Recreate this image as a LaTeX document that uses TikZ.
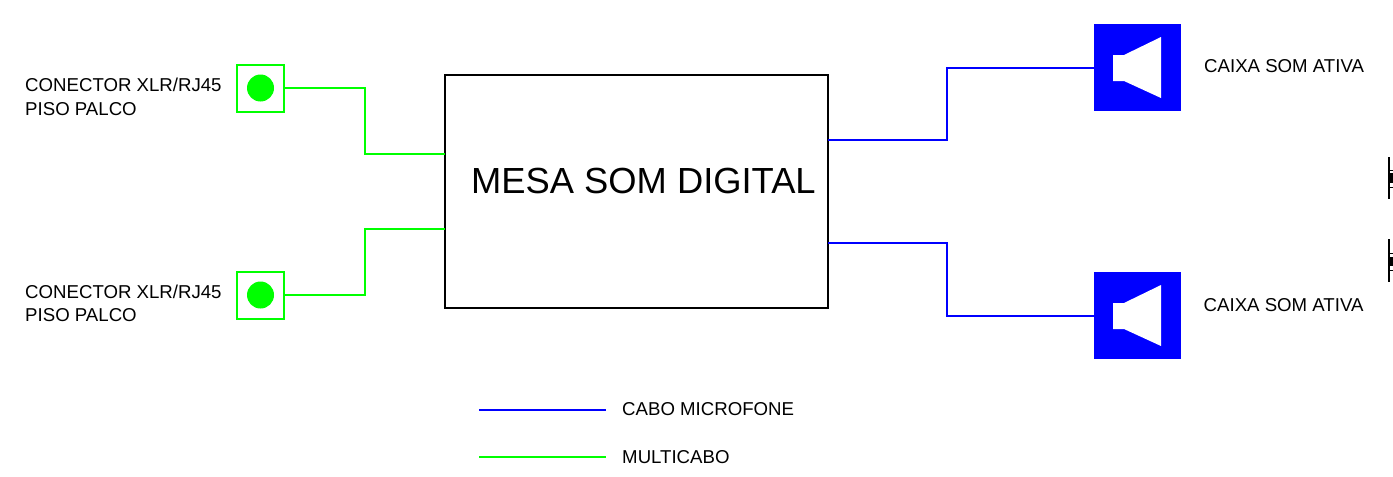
\documentclass[tikz,border=0pt]{standalone}
\usepackage{fontspec}
\setmainfont{Liberation Sans}
\definecolor{fioverde}{RGB}{0,255,0}
\definecolor{fioazul}{RGB}{0,0,255}
\tikzset{
	textolabel/.style={anchor=west, align=left, inner sep=0pt, font=\fontsize{15.9}{20.2}\selectfont},
	conector/.style={draw=fioverde, line width=1.1pt, minimum width=1.41cm, minimum height=1.41cm, inner sep=0pt},
	furo/.style={circle, fill=fioverde, minimum size=0.81cm, inner sep=0pt},
	caixa/.style={fill=fioazul, minimum width=2.63cm, minimum height=2.63cm, inner sep=0pt},
	multicabo/.style={draw=fioverde, line width=1.1pt},
	cabomic/.style={draw=fioazul, line width=1.1pt},
}
\begin{document}
\begin{tikzpicture}[x=0.03cm, y=-0.03cm]
	\useasboundingbox (0,0) rectangle (1393,477);

	%mesa
	\node[draw=black, line width=1pt, minimum width=11.49cm, minimum height=6.99cm, inner sep=0pt] (mesa) at (636.5,191.5) {};
	\node[anchor=west, inner sep=0pt, font=\fontsize{31}{36}\selectfont] (mesatexto) at (471,181) {MESA SOM DIGITAL};
	\coordinate (mesaEntA) at (445,154);
	\coordinate (mesaEntB) at (445,229);
	\coordinate (mesaSaiA) at (828,140);
	\coordinate (mesaSaiB) at (828,243);

	%conectores piso palco
	\node[conector] (conA) at (260.5,88.5) {};
	\node[furo] (furoA) at (260.5,88) {};
	\node[textolabel] (conAtexto) at (25,97) {CONECTOR XLR/RJ45\\PISO PALCO};
	\node[conector] (conB) at (260.5,295.5) {};
	\node[furo] (furoB) at (260.5,295) {};
	\node[textolabel] (conBtexto) at (25,303.5) {CONECTOR XLR/RJ45\\PISO PALCO};

	%caixas
	\node[caixa] (caixaA) at (1137.5,67.5) {};
	\fill[white] (1113,55) -- (1124,55) -- (1161,37) -- (1161,98) -- (1124,81) -- (1113,81) -- cycle;
	\node[textolabel] (caixaAtexto) at (1204,66.5) {CAIXA SOM ATIVA};
	\node[caixa] (caixaB) at (1137.5,315.5) {};
	\fill[white] (1113,303) -- (1124,303) -- (1161,285) -- (1161,346) -- (1124,329) -- (1113,329) -- cycle;
	\node[textolabel] (caixaBtexto) at (1203.5,305.5) {CAIXA SOM ATIVA};

	%ligacoes
	\coordinate (dobraA) at (365,154);
	\coordinate (dobraB) at (365,229);
	\coordinate (dobraC) at (947,68);
	\coordinate (dobraD) at (947,316);
	\draw[multicabo] (conA.east |- furoA) -| (dobraA) -- (mesaEntA);
	\draw[multicabo] (conB.east |- furoB) -| (dobraB) -- (mesaEntB);
	\draw[cabomic, shorten >=-1pt] (mesaSaiA) -| (dobraC) -- (caixaA.west |- dobraC);
	\draw[cabomic, shorten >=-1pt] (mesaSaiB) -| (dobraD) -- (caixaB.west |- dobraD);

	%legenda
	\node[textolabel] (legMic) at (622,409.5) {CABO MICROFONE};
	\node[textolabel] (legMulti) at (622,457) {MULTICABO};
	\coordinate (legMultiIni) at (479,457);
	\coordinate (legMultiFim) at (606,457);
	\coordinate (legMicIni) at (479,410);
	\coordinate (legMicFim) at (606,410);
	\draw[multicabo] (legMultiIni) -- (legMultiFim);
	\draw[cabomic] (legMicIni) -- (legMicFim);

	%borda direita
	\draw[black, line width=1.8pt] (1389,157) -- (1389,199);
	\draw[black, line width=0.8pt] (1389,170) -- (1393,170);
	\draw[black, line width=0.8pt] (1389,187) -- (1393,187);
	\fill[black] (1389,173) rectangle (1393,183);
	\draw[black, line width=1.8pt] (1389,239) -- (1389,282);
	\draw[black, line width=0.8pt] (1389,253) -- (1393,253);
	\draw[black, line width=0.8pt] (1389,270) -- (1393,270);
	\fill[black] (1389,257) rectangle (1393,266);

\end{tikzpicture}
\end{document}
